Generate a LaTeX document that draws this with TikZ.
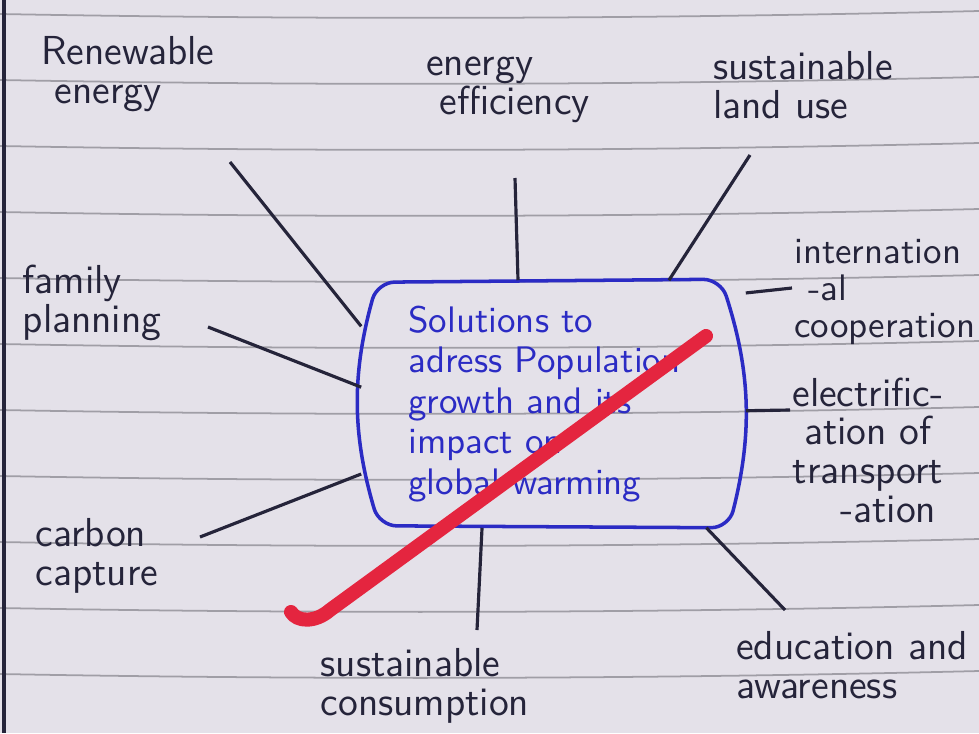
\documentclass[tikz,border=0pt]{standalone}
\usepackage{amsmath}
\usetikzlibrary{calc}

\definecolor{paper}{HTML}{E4E1E9}
\definecolor{ruleline}{HTML}{A09EA6}
\definecolor{ink}{HTML}{25243A}
\definecolor{pen}{HTML}{2B2BC4}
\definecolor{marker}{HTML}{E4253F}

\begin{document}
\begin{tikzpicture}[x=0.01cm,y=-0.01cm,
		leaf/.style={align=left,text=ink,inner sep=0pt,
			font=\sffamily\fontsize{11.5}{11}\selectfont},
		core/.style={minimum width=3.83cm,minimum height=2.46cm,inner sep=0pt,
			text width=2.9cm,align=left,text=pen,
			font=\sffamily\fontsize{10.5}{11.5}\selectfont},
		link/.style={draw=ink,line width=0.9pt},
		ruling/.style={draw=ruleline,line width=0.5pt}]

		% paper
		\fill[paper] (0,0) rectangle (979,733);
		\useasboundingbox (0,0) rectangle (979,733);
		\foreach \y in {14,80,146,212,278,344,410,476,542,608,674}
			\draw[ruling] (0,\y) .. controls (330,\y+6) and (650,\y+5) .. (979,\y-3);
		\draw[ink,line width=1.1pt] (4,0) -- (4,733);

		\node[core] (core) at (553.5,404)
			{Solutions to\\adress Population\\growth and its\\impact on\\global warming};

		\coordinate (b1) at ($(core.north west)+(16,2)$);
		\coordinate (b2) at ($(core.north east)+(-25,-1)$);
		\coordinate (b3) at ($(core.south east)+(-17,0)$);
		\coordinate (b4) at ($(core.south west)+(18,-2)$);
		\draw[pen,line width=1pt,rounded corners=5pt]
			($(b1)!0.5!(b2)$) -- (b2) to[bend left=16] (b3) -- (b4) to[bend left=16] (b1) -- cycle;

		\node[leaf] (renew)   at (128,74)  {Renewable\\\ energy};
		\node[leaf] (effic)   at (508,90)  {energy\\\ efficiency};
		\node[leaf] (landuse) at (803,85)  {sustainable\\land use};
		\node[leaf] (family)  at (92,303)  {family\\planning};
		\node[leaf,anchor=east,font=\sffamily\fontsize{10.5}{10.5}\selectfont]
			(intl) at (976,292) {internation\\\hspace{4pt}-al\\cooperation};
		\node[leaf,align=center] (elec) at (868,450) {electrific-\\ation of\\transport\\\quad -ation};
		\node[leaf] (carbon)  at (97,556)  {carbon\\capture};
		\node[leaf] (consum)  at (425,686) {sustainable\\consumption};
		\node[leaf] (educ)    at (852,665) {education and\\awareness};

		\coordinate (renew-end)   at (230,162);
		\coordinate (effic-end)   at (515,178);
		\coordinate (landuse-end) at (750,155);
		\coordinate (family-end)  at (208,327);
		\coordinate (intl-end)    at (792,288);
		\coordinate (elec-end)    at (790,410);
		\coordinate (carbon-end)  at (200,537);
		\coordinate (consum-end)  at (477,630);
		\coordinate (educ-end)    at (785,610);

		\path[link] (renew-end)   edge (core.158);
		\path[link] (effic-end)   edge (core.106);
		\path[link] (landuse-end) edge (core.47);
		\path[link] (family-end)  edge (core.175);
		\path[link] (intl-end)    edge (core.30);
		\path[link] (elec-end)    edge (core.358);
		\path[link] (carbon-end)  edge (core.200);
		\path[link] (consum-end)  edge (core.240);
		\path[link] (educ-end)    edge (core.321);

		% red strike across the centre
		\draw[marker,line width=4pt,line cap=round,line join=round]
			(706,336) -- (330,610) .. controls (315,623) and (297,622) .. (291,612);
\end{tikzpicture}
\end{document}
